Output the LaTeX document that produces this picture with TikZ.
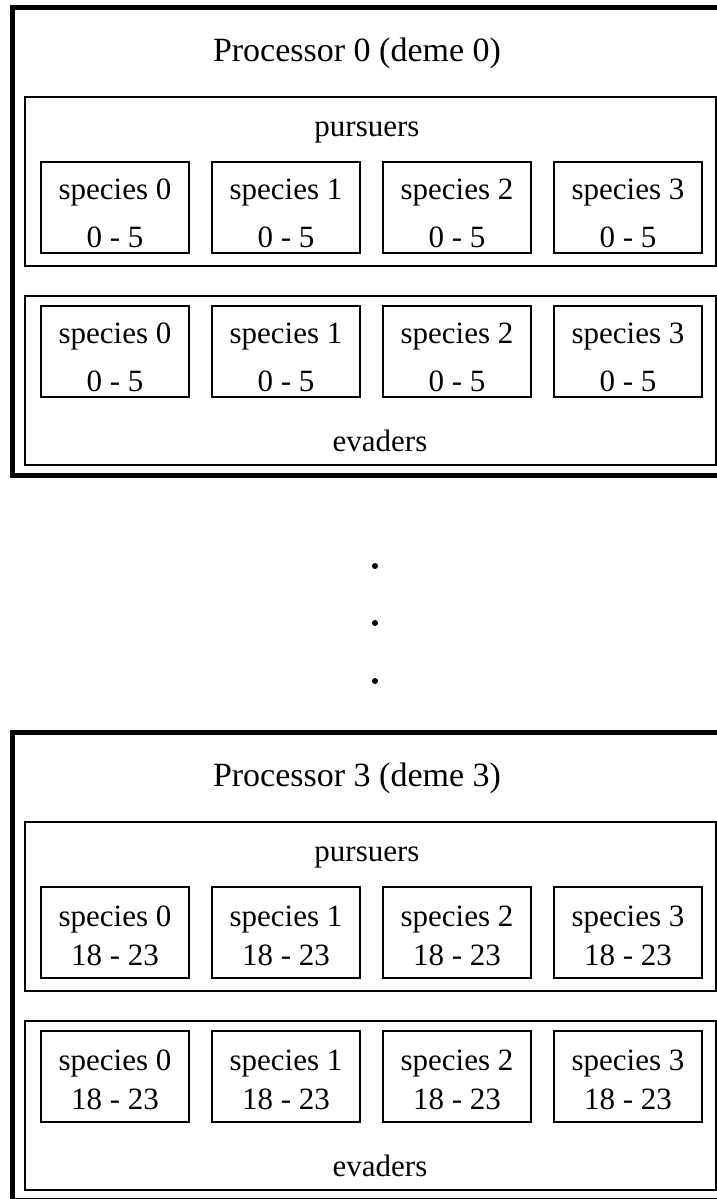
\documentclass[tikz,border=0pt]{standalone}
\usepackage{fontspec}
\setmainfont{Liberation Serif}
\usetikzlibrary{positioning}

\begin{document}
\begin{tikzpicture}[x=0.5pt,y=-0.5pt]
\tikzset{
     procframe/.style={draw, line width=2.5pt, inner sep=0pt, outer sep=0pt, minimum width=363.75pt, minimum height=234pt},
     groupbox/.style={draw, line width=1pt, inner sep=0pt, minimum width=345.5pt, minimum height=84.5pt},
     species/.style={draw, line width=0.6pt, inner sep=0pt, minimum width=74pt, minimum height=45.5pt},
     speciestext/.style={align=center, inner sep=0pt, font=\fontsize{15.5}{\lskip}\selectfont},
     grouplabel/.style={font=\fontsize{15.5}{18}\selectfont},
     proctitle/.style={font=\fontsize{17}{20}\selectfont},
     dot/.style={circle, fill, inner sep=0pt, minimum size=3pt}}

% the page, the frames run off its right edge
\path[use as bounding box, clip] (0,0) rectangle (717,1199);

% The processors
\foreach \dy/\p/\range/\lskip/\tshift in {0/0/0 - 5/24/3, 725/3/18 - 23/19.5/1.5} {
  \node (proc\p) [procframe] at (376.25,241.5+\dy) {};
  \node (title\p) [proctitle] at (357,53+\dy) {Processor \p\ (deme \p)};

  % pursuers and evaders
  \node (pur\p) [groupbox] at (370.5,181.5+\dy) {};
  \node (eva\p) [groupbox] at (370.5,380+\dy) {};
  \node (purlabel\p) [grouplabel] at (367,132+\dy) {pursuers};
  \node (evalabel\p) [grouplabel] at (380,441+\dy) {evaders};

  \foreach \s/\cx in {0/115,1/286,2/457,3/628} {
    \node (pur\p s\s) [species] at (\cx,207.5+\dy) {};
    \node (eva\p s\s) [species] at (\cx,351.5+\dy) {};
    \node (pur\p t\s) [speciestext] at ([yshift=-\tshift pt]pur\p s\s.center) {species \s\\\range};
    \node (eva\p t\s) [speciestext] at ([yshift=-\tshift pt]eva\p s\s.center) {species \s\\\range};
  }
}

% The dots in between
\foreach \i/\y in {1/566,2/623,3/681}
  \node (dot\i) [dot] at (375,\y) {};
\end{tikzpicture}
\end{document}
